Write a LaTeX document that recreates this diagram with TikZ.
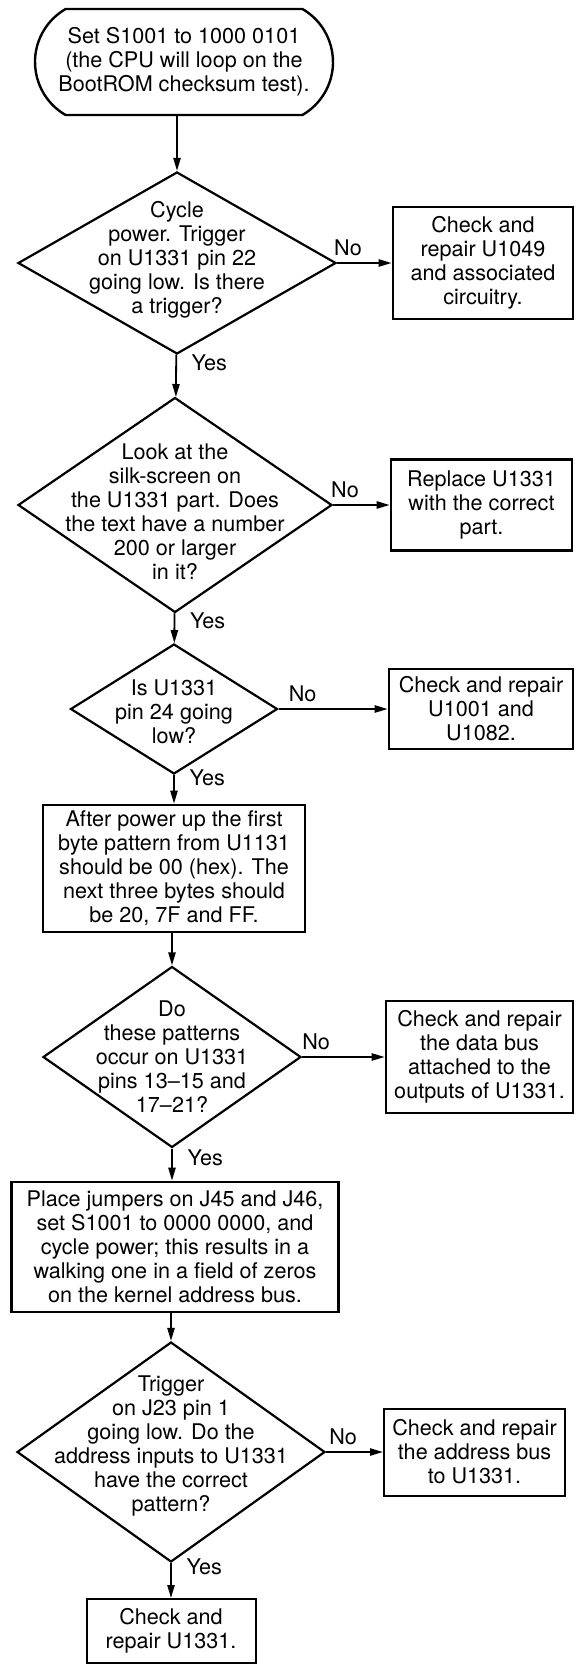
\documentclass[tikz,border=0pt]{standalone}
\usepackage{fontspec}
\setmainfont{TeX Gyre Heros}
\usetikzlibrary{arrows.meta,shapes.geometric,shapes.misc}

\begin{document}
\begin{tikzpicture}[x=0.5pt, y=-0.5pt, >={Triangle[length=6.5pt,width=3.6pt]},
  font=\fontsize{10.8}{12}\selectfont,
  term/.style={draw, line width=1.2pt, rounded rectangle,
    rounded rectangle arc length=120, minimum width=149pt,
    minimum height=53pt, inner sep=0pt, align=center},
  dec/.style={draw, line width=1.1pt, diamond, inner sep=0pt},
  dectext/.style={align=center, inner sep=0pt},
  act/.style={draw, line width=1.35pt, inner xsep=2pt, inner ysep=1pt, align=center},
  flow/.style={->, line width=0.9pt}]

  \useasboundingbox (0,0) rectangle (576,1665);

  % --- Inicio ---
  \node[term] (start) at (184,62)
    {Set S1001 to 1000 0101\\(the CPU will loop on the\\BootROM checksum test).};

  % --- Paso 1: trigger en pin 22 ---
  \node[dec, minimum width=159pt, minimum height=91pt] (d1) at (177,263) {};
  \node[dectext, yshift=1.5pt] (d1t) at (d1)
    {Cycle\\power. Trigger\\on U1331 pin 22\\going low. Is there\\a trigger?};
  \node[act, minimum width=90pt, minimum height=56pt] (b1) at (483,263)
    {Check and\\repair U1049\\and associated\\circuitry.};

  % --- Paso 2: silk-screen ---
  \node[dec, minimum width=157pt, minimum height=107.5pt] (d2) at (175,505) {};
  \node[dectext, yshift=-3.5pt] (d2t) at (d2)
    {Look at the\\silk-screen on\\the U1331 part. Does\\the text have a number\\200 or larger\\in it?};
  \node[act, minimum width=90.5pt, minimum height=45.5pt] (b2) at (481.5,505)
    {Replace U1331\\with the correct\\part.};

  % --- Paso 3: pin 24 ---
  \node[dec, minimum width=103.5pt, minimum height=65pt] (d3) at (174,709) {};
  \node[dectext, yshift=-1.5pt] (d3t) at (d3) {Is U1331\\pin 24 going\\low?};
  \node[act, minimum width=92pt, minimum height=40pt] (b3) at (481,709)
    {Check and repair\\U1001 and\\U1082.};

  % --- Paso 4: patrones de bytes ---
  \node[act, minimum width=131pt, minimum height=63.5pt] (b4) at (174,868.5)
    {After power up the first\\byte pattern from U1131\\should be 00 (hex). The\\next three bytes should\\be 20, 7F and FF.};
  \node[dec, minimum width=129pt, minimum height=90.5pt] (d4) at (172,1057) {};
  \node[dectext] (d4t) at (d4)
    {Do\\these patterns\\occur on U1331\\pins 13--15 and\\17--21?};
  \node[act, minimum width=93.5pt, minimum height=56pt] (b5) at (479.5,1057)
    {Check and repair\\the data bus\\attached to the\\outputs of U1331.};

  % --- Paso 5: bus de direcciones ---
  \node[act, minimum width=163.5pt, minimum height=65pt] (b6) at (175,1247)
    {Place jumpers on J45 and J46,\\set S1001 to 0000 0000, and\\cycle power; this results in a\\walking one in a field of zeros\\on the kernel address bus.};
  \node[dec, minimum width=154pt, minimum height=110pt] (d5) at (171,1452) {};
  \node[dectext, yshift=3pt] (d5t) at (d5)
    {Trigger\\on J23 pin 1\\going low. Do the\\address inputs to U1331\\have the correct\\pattern?};
  \node[act, line width=1pt, minimum width=90.5pt, minimum height=43.5pt] (b7) at (474.5,1452)
    {Check and repair\\the address bus\\to U1331.};
  \node[act, line width=1pt, minimum width=84.5pt, minimum height=32pt] (fin) at (171,1631)
    {Check and\\repair U1331.};

  % --- Flechas ---
  \draw[flow] (d1.north |- start.south) -- (d1);
  \draw[flow] (d1) -- (b1) node[pos=0.2, above] (no1) {No};
  \draw[flow] (d1) -- (d2) node[pos=0.19, right=4pt] (yes1) {Yes};
  \draw[flow] (d2) -- (b2) node[pos=0.21, above] (no2) {No};
  \draw[flow] (d2) -- (d3) node[pos=0.26, right=4pt] (yes2) {Yes};
  \draw[flow] (d3) -- (b3) node[pos=0.22, above] (no3) {No};
  \draw[flow] (d3) -- (b4) node[pos=0.1, right=4pt] (yes3) {Yes};
  \draw[flow] (b4.south -| d4.north) -- (d4);
  \draw[flow] (d4) -- (b5) node[pos=0.17, above] (no4) {No};
  \draw[flow] (d4) -- (b6.north -| d4.south) node[pos=0.3, right=4pt] (yes4) {Yes};
  \draw[flow] (d5.north |- b6.south) -- (d5);
  \draw[flow] (d5) -- (b7) node[pos=0.3, above] (no5) {No};
  \draw[flow] (d5) -- (fin) node[pos=0.1, right=4pt] (yes5) {Yes};

\end{tikzpicture}
\end{document}
